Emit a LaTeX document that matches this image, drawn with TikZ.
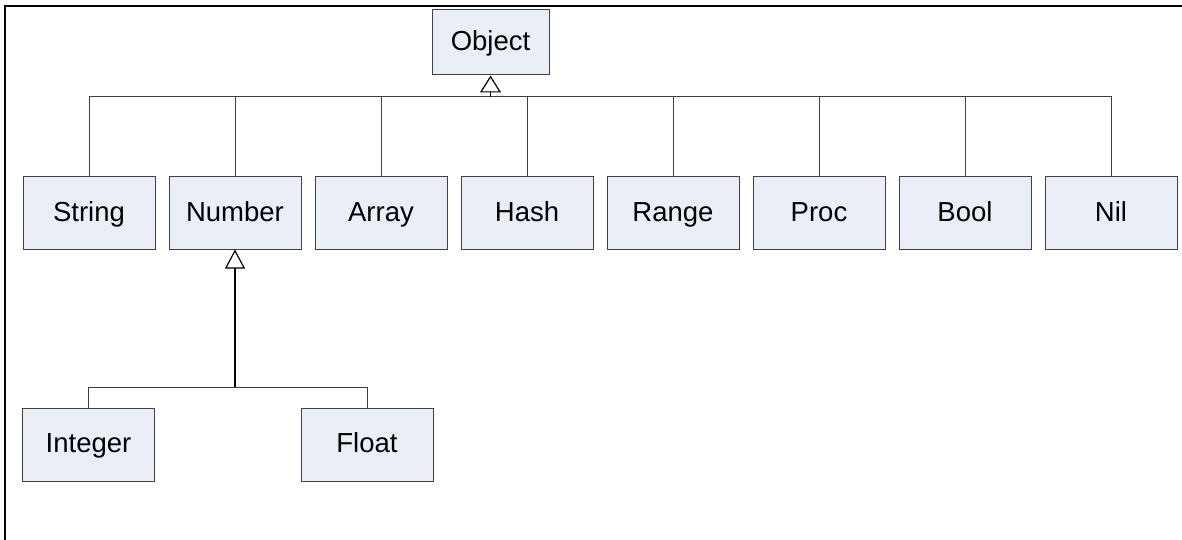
\documentclass[tikz,border=0pt]{standalone}
\usepackage{fontspec}
\setmainfont{Liberation Sans}
\usetikzlibrary{arrows.meta}
\definecolor{boxfill}{HTML}{EAEEF7}
\definecolor{edge}{HTML}{404040}
\tikzset{
  cls/.style={draw=edge, fill=boxfill, line width=1pt, minimum width=132pt,
    minimum height=72pt, inner sep=0pt, text height=20pt, text depth=4pt,
    font=\fontsize{27.5}{30}\selectfont},
  conn/.style={draw=edge, line width=1pt},
  inherit/.style={draw=black, line width=1.2pt,
    -{Triangle[open, width=21pt, length=17pt, line width=1.2pt]}},
}
\begin{document}
\begin{tikzpicture}[x=1pt, y=-1pt]
\useasboundingbox (0,0) rectangle (1182,540);
% frame
\draw[line width=2pt] (5,540) -- (5,6) -- (1182,6);

% root class
\node[cls, minimum width=117pt, minimum height=65pt] (object) at (490.5,42.5) {Object};

% direct subclasses
\node[cls] (string) at (89,213)  {String};
\node[cls] (number) at (235,213) {Number};
\node[cls] (array)  at (381,213) {Array};
\node[cls] (hash)   at (527,213) {Hash};
\node[cls] (range)  at (673,213) {Range};
\node[cls] (proc)   at (819,213) {Proc};
\node[cls] (bool)   at (965,213) {Bool};
\node[cls] (nil)    at (1111,213) {Nil};

% subclasses of Number
\node[cls, minimum height=73pt] (integer) at (88.5,444.5) {Integer};
\node[cls, minimum height=73pt] (float)   at (367,444.5)  {Float};

% generalization to Object
\coordinate (objbus) at (490.5,97);
\foreach \c in {string,number,array,hash,range,proc,bool,nil}
  \draw[conn] (\c.north) |- (objbus);
\draw[inherit] (objbus) -- (object.south);

% generalization to Number
\coordinate (numbus) at (235,387);
\draw[conn] (integer.north) |- (numbus);
\draw[conn] (float.north) |- (numbus);
\draw[inherit, -{Triangle[open, width=20pt, length=19pt, line width=1.2pt]}, line width=1.6pt] (numbus) -- (number.south);
\end{tikzpicture}
\end{document}
